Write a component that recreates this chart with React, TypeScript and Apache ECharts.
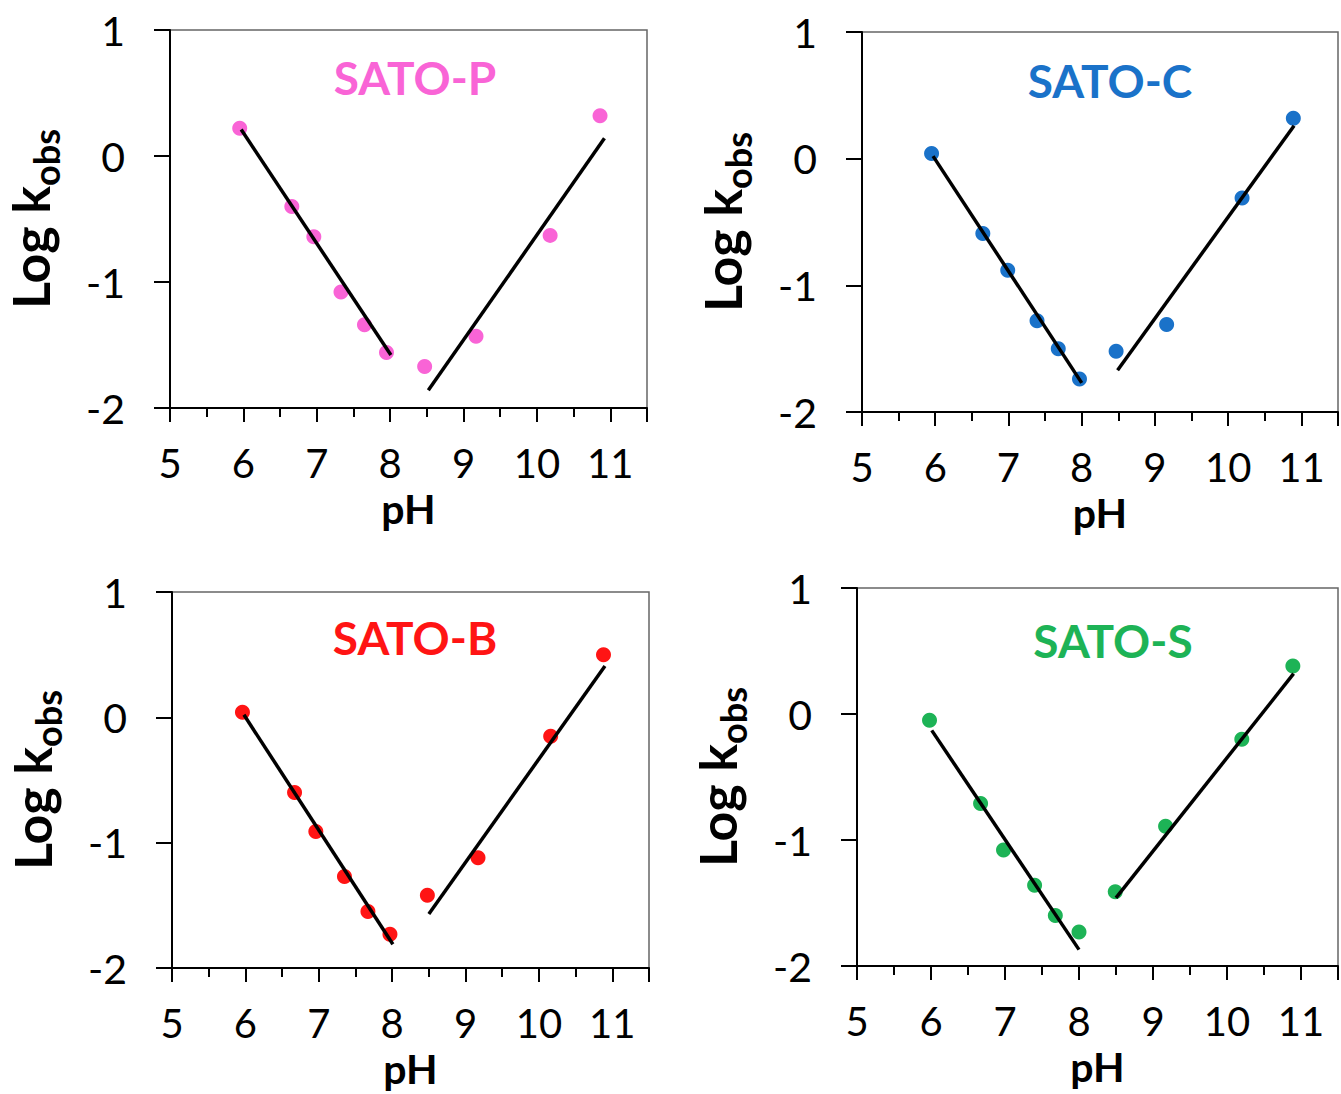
import React, { useEffect, useRef } from "react";
import * as echarts from "echarts";

// ---- data ----
const panelNames = ["SATO-P", "SATO-C", "SATO-B", "SATO-S"];
const panelColors = ["#F964D6", "#1A72C9", "#FF1414", "#1DB356"];

const phP = [5.95, 6.66, 6.96, 7.33, 7.65, 7.95, 8.47, 9.17, 10.18, 10.86];
const logkP = [0.22, -0.4, -0.64, -1.08, -1.34, -1.56, -1.67, -1.43, -0.63, 0.32];
const fitLeftP = [[5.97, 0.21], [8.01, -1.58]];
const fitRightP = [[8.52, -1.86], [10.92, 0.14]];

const phC = [5.95, 6.65, 6.99, 7.39, 7.68, 7.97, 8.47, 9.16, 10.19, 10.89];
const logkC = [0.04, -0.59, -0.88, -1.28, -1.5, -1.74, -1.52, -1.31, -0.31, 0.32];
const fitLeftC = [[5.97, 0.02], [8.0, -1.77]];
const fitRightC = [[8.49, -1.67], [10.9, 0.26]];

const phB = [5.96, 6.67, 6.96, 7.35, 7.67, 7.97, 8.48, 9.17, 10.16, 10.88];
const logkB = [0.04, -0.6, -0.91, -1.27, -1.55, -1.73, -1.42, -1.12, -0.15, 0.5];
const fitLeftB = [[5.98, 0.02], [8.01, -1.81]];
const fitRightB = [[8.5, -1.57], [10.9, 0.41]];

const phS = [5.98, 6.67, 6.98, 7.4, 7.68, 8.0, 8.49, 9.17, 10.2, 10.89];
const logkS = [-0.05, -0.71, -1.08, -1.36, -1.6, -1.73, -1.41, -0.89, -0.2, 0.38];
const fitLeftS = [[6.01, -0.13], [8.0, -1.87]];
const fitRightS = [[8.5, -1.46], [10.9, 0.32]];

const xMin = 5;
const xMax = 11.5;
const yMin = -2;
const yMax = 1;

const panels = [
  { ph: phP, logk: logkP, fitL: fitLeftP, fitR: fitRightP },
  { ph: phC, logk: logkC, fitL: fitLeftC, fitR: fitRightC },
  { ph: phB, logk: logkB, fitL: fitLeftB, fitR: fitRightB },
  { ph: phS, logk: logkS, fitL: fitLeftS, fitR: fitRightS },
];

// layout
const grids = [
  { left: 170, top: 30, width: 477, height: 378 },
  { left: 862, top: 32, width: 480, height: 380 },
  { left: 172, top: 592, width: 477, height: 376 },
  { left: 857, top: 588, width: 484, height: 378 },
];
const titlePos = [
  [415, 77],
  [1110, 80],
  [415, 637],
  [1113, 640],
];

const FONT = "Lato, 'Open Sans', sans-serif";

export default function App() {
  const ref = useRef<HTMLDivElement>(null);

  useEffect(() => {
    if (!ref.current) return;
    document.body.style.margin = "0";
    const chart = echarts.init(ref.current, undefined, { renderer: "svg" });

    const xAxes = grids.map((_, i) => ({
      gridIndex: i,
      type: "value",
      min: xMin,
      max: xMax,
      interval: 1,
      axisLine: { show: true, onZero: false, lineStyle: { color: "#000", width: 2 } },
      axisTick: { show: true, inside: false, length: 14, lineStyle: { color: "#000", width: 2 } },
      minorTick: { show: true, splitNumber: 2, length: 9, lineStyle: { color: "#000", width: 2 } },
      splitLine: { show: false },
      axisLabel: {
        margin: 35,
        fontSize: 40,
        lineHeight: 40,
        color: "#000",
        fontFamily: FONT,
        formatter: (v: number) => (Number.isInteger(v) && v <= 11 ? String(v) : ""),
      },
      name: "pH",
      nameLocation: "middle",
      nameGap: 80,
      nameTextStyle: { fontSize: 41, lineHeight: 41, fontWeight: "bold", color: "#000", fontFamily: FONT },
    }));

    const yAxes = grids.map((_, i) => ({
      gridIndex: i,
      type: "value",
      min: yMin,
      max: yMax,
      interval: 1,
      axisLine: { show: true, onZero: false, lineStyle: { color: "#000", width: 2 } },
      axisTick: { show: true, inside: false, length: 16, lineStyle: { color: "#000", width: 2 } },
      splitLine: { show: false },
      axisLabel: { margin: 45, fontSize: 41, color: "#000", fontFamily: FONT },
      name: "{a|Log k}{b|obs}",
      nameLocation: "middle",
      nameRotate: 90,
      nameGap: 114,
      nameTextStyle: {
        color: "#000",
        fontFamily: FONT,
        rich: {
          a: { fontSize: 52, fontWeight: "bold", color: "#000", fontFamily: FONT, verticalAlign: "bottom" },
          b: { fontSize: 36, fontWeight: "bold", color: "#000", fontFamily: FONT, verticalAlign: "bottom", padding: [0, 0, -8, 0] },
        },
      },
    }));

    const series: any[] = [];
    panels.forEach((p, i) => {
      series.push({
        type: "scatter",
        xAxisIndex: i,
        yAxisIndex: i,
        symbol: "circle",
        symbolSize: 15,
        itemStyle: { color: panelColors[i], opacity: 1 },
        data: p.ph.map((x, k) => [x, p.logk[k]]),
        z: 2,
      });
      [p.fitL, p.fitR].forEach((f) => {
        series.push({
          type: "line",
          xAxisIndex: i,
          yAxisIndex: i,
          data: f,
          showSymbol: false,
          symbol: "none",
          lineStyle: { color: "#000", width: 3.5 },
          z: 3,
        });
      });
    });

    chart.setOption({
      animation: false,
      backgroundColor: "#fff",
      grid: grids.map((g) => ({
        ...g,
        show: true,
        borderColor: "#666",
        borderWidth: 1.5,
        backgroundColor: "transparent",
        containLabel: false,
      })),
      xAxis: xAxes,
      yAxis: yAxes,
      series,
      graphic: panelNames.map((n, i) => ({
        type: "text",
        x: titlePos[i][0],
        y: titlePos[i][1],
        z: 10,
        style: {
          text: n,
          fill: panelColors[i],
          font: `bold 46px ${FONT}`,
          textAlign: "center",
          textVerticalAlign: "middle",
        },
      })),
    });

    return () => chart.dispose();
  }, []);

  return (
    <div
      ref={ref}
      style={{ position: "absolute", left: 0, top: 0, width: 1341, height: 1094 }}
    />
  );
}
